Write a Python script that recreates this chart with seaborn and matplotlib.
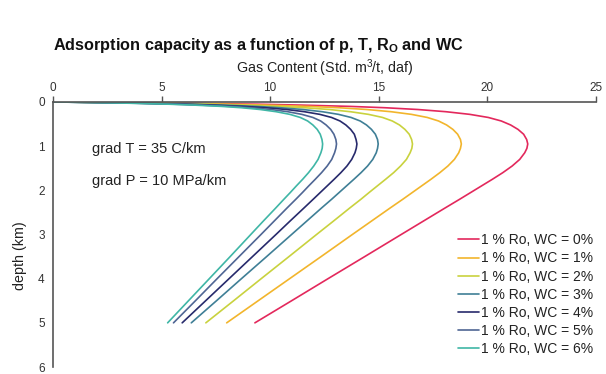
import numpy as np
import pandas as pd
import matplotlib
matplotlib.use("Agg")
import matplotlib.pyplot as plt
import seaborn as sns

depth = [0, 0.005, 0.01, 0.02, 0.03, 0.05, 0.07, 0.1, 0.13, 0.17, 0.22, 0.28, 0.35, 0.43,
         0.52, 0.62, 0.73, 0.85, 0.95, 1.05, 1.15, 1.3, 1.45, 1.6, 1.75, 1.9, 2.05, 2.2,
         2.4, 2.7, 3.0, 3.5, 4.0, 4.5, 5.0]

wc0 = [0, 1.4, 2.7, 4.8, 6.6, 9.4, 11.4, 13.7, 15.3, 16.8, 18.1, 19.2, 20.05, 20.65, 21.08,
       21.42, 21.68, 21.82, 21.87, 21.83, 21.73, 21.5, 21.15, 20.72, 20.24, 19.74, 19.24, 18.74,
       18.06, 17.05, 16.04, 14.36, 12.67, 10.99, 9.3]
wc1 = [0, 1.2, 2.32, 4.13, 5.68, 8.08, 9.8, 11.78, 13.16, 14.45, 15.57, 16.51, 17.24, 17.76, 18.13,
       18.42, 18.64, 18.77, 18.81, 18.77, 18.69, 18.49, 18.19, 17.82, 17.41, 16.98, 16.55, 16.12,
       15.53, 14.66, 13.79, 12.35, 10.9, 9.45, 8.0]
wc2 = [0, 1.06, 2.04, 3.63, 5.0, 7.12, 8.63, 10.37, 11.58, 12.72, 13.7, 14.53, 15.18, 15.63, 15.96,
       16.21, 16.41, 16.52, 16.56, 16.53, 16.45, 16.28, 16.01, 15.69, 15.32, 14.94, 14.56, 14.19,
       13.67, 12.91, 12.14, 10.87, 9.59, 8.32, 7.04]
wc3 = [0, 0.96, 1.85, 3.29, 4.52, 6.44, 7.81, 9.38, 10.48, 11.51, 12.4, 13.15, 13.73, 14.15, 14.44,
       14.67, 14.85, 14.95, 14.98, 14.95, 14.89, 14.73, 14.49, 14.19, 13.86, 13.52, 13.18, 12.84,
       12.37, 11.68, 10.99, 9.84, 8.68, 7.53, 6.37]
wc4 = [0, 0.9, 1.73, 3.07, 4.22, 6.02, 7.3, 8.77, 9.79, 10.75, 11.58, 12.29, 12.83, 13.22, 13.49,
       13.71, 13.88, 13.96, 14.0, 13.97, 13.91, 13.76, 13.54, 13.26, 12.95, 12.63, 12.31, 11.99,
       11.56, 10.91, 10.27, 9.19, 8.11, 7.03, 5.95]
wc5 = [0, 0.84, 1.61, 2.87, 3.94, 5.61, 6.81, 8.18, 9.13, 10.03, 10.81, 11.46, 11.97, 12.33, 12.58,
       12.79, 12.94, 13.03, 13.06, 13.03, 12.97, 12.84, 12.63, 12.37, 12.08, 11.78, 11.49, 11.19,
       10.78, 10.18, 9.58, 8.57, 7.56, 6.56, 5.55]
wc6 = [0, 0.8, 1.53, 2.73, 3.75, 5.34, 6.48, 7.78, 8.69, 9.54, 10.28, 10.91, 11.39, 11.73, 11.97,
       12.17, 12.31, 12.39, 12.42, 12.4, 12.34, 12.21, 12.01, 11.77, 11.5, 11.21, 10.93, 10.64,
       10.26, 9.68, 9.11, 8.16, 7.2, 6.24, 5.28]

labels = ["1 % Ro, WC = 0%", "1 % Ro, WC = 1%", "1 % Ro, WC = 2%", "1 % Ro, WC = 3%",
          "1 % Ro, WC = 4%", "1 % Ro, WC = 5%", "1 % Ro, WC = 6%"]
series = [wc0, wc1, wc2, wc3, wc4, wc5, wc6]
colors = ["#e3285c", "#f2b52c", "#c9d23e", "#3f7f96", "#272a6c", "#4f6694", "#3fb6a6"]

xticks = [0, 5, 10, 15, 20, 25]
yticks = [0, 1, 2, 3, 4, 5, 6]

rows = []
for lab, vals in zip(labels, series):
    for d, g in zip(depth, vals):
        rows.append({"depth": d, "gas": g, "label": lab})
df = pd.DataFrame(rows)

sns.set_style("white")
plt.rcParams["font.family"] = ["Liberation Sans", "DejaVu Sans"]
plt.rcParams["mathtext.fontset"] = "custom"
plt.rcParams["mathtext.rm"] = "Liberation Sans"
plt.rcParams["mathtext.bf"] = "Liberation Sans:bold"
plt.rcParams["mathtext.it"] = "Liberation Sans:italic"

fig = plt.figure(figsize=(6.06, 3.74), dpi=100)
ax = fig.add_axes([0.0875, 0.0187, 0.8955, 0.7086])

sns.lineplot(data=df, x="gas", y="depth", hue="label", palette=colors, orient="y",
             estimator=None, sort=True, linewidth=1.2, ax=ax)

ax.set_xlim(0, 25)
ax.set_ylim(6, 0)
ax.xaxis.tick_top()
ax.xaxis.set_label_position("top")
ax.set_xticks(xticks)
ax.set_yticks(yticks)
ax.spines["right"].set_visible(False)
ax.spines["bottom"].set_visible(False)
for s in ["left", "top"]:
    ax.spines[s].set_color("#555555")
    ax.spines[s].set_linewidth(1.2)
ax.tick_params(axis="both", direction="out", length=4, width=1, color="#555555",
               labelsize=8.5, labelcolor="#333333", pad=2)
ax.set_xlabel("Gas Content (Std. m$^3$/t, daf)", fontsize=10.3, color="#222222", labelpad=6)
ax.set_ylabel("depth (km)", fontsize=10.3, color="#222222")
ax.yaxis.set_label_coords(-0.048, 0.42)

ax.text(1.8, 1.07, "grad T = 35 C/km", fontsize=10.5, color="#222222", va="center")
ax.text(1.8, 1.79, "grad P = 10 MPa/km", fontsize=10.5, color="#222222", va="center")

leg = ax.legend(loc="lower right", bbox_to_anchor=(1.0, 0.03), frameon=False, fontsize=10,
                handlelength=1.5, handletextpad=0.15, labelspacing=0.3, borderaxespad=0,
                borderpad=0.2)
for t in leg.get_texts():
    t.set_color("#222222")

fig.text(0.087, 0.878, r"Adsorption capacity as a function of p, T, R$_{\mathbf{O}}$ and WC",
         fontsize=11.7, fontweight="bold", color="#111111", va="center")

fig.savefig("out.png", dpi=100)
